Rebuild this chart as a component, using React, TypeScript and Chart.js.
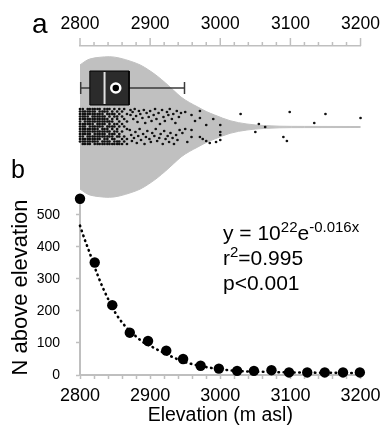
import React, { useEffect, useRef } from "react";
import { Chart, registerables } from "chart.js";

Chart.register(...registerables);

const FONT = "'Liberation Sans', Arial, Helvetica, sans-serif";

// ---- axis ticks ----
const xTickValues = [2800, 2820, 2840, 2860, 2880, 2900, 2920, 2940, 2960, 2980, 3000, 3020, 3040, 3060, 3080, 3100, 3120, 3140, 3160, 3180, 3200];
const xLabelValues = [2800, 2900, 3000, 3100, 3200];
const yTickValues = [0, 100, 200, 300, 400, 500];

// ---- panel b: N above elevation ----
const elevation = [2800, 2821, 2846, 2871, 2897, 2923, 2947, 2972, 2998, 3024, 3048, 3073, 3098, 3124, 3149, 3175, 3199];
const nAbove = [550, 351, 218, 132, 106, 76, 50, 29, 20, 13, 13, 15, 8, 8, 8, 8, 8];

// fitted curve
const fitElevation = [2800, 2807, 2814, 2819, 2826, 2833, 2842, 2851, 2863, 2875, 2889, 2907, 2926, 2949, 2972, 3000, 3028, 3060, 3100, 3150, 3200];
const fitN = [466, 421, 380, 348, 307, 270, 229, 192, 156, 130, 104, 83, 62, 41, 28, 18, 12, 10, 8, 7, 6];

// ---- panel a: violin outline (half width) ----
const violinElev = [2800, 2808, 2814, 2828, 2842, 2856, 2874, 2886, 2898, 2910, 2922, 2933, 2944, 2956, 2968, 2980, 2992, 3014, 3038, 3062, 3084, 3120, 3200];
const violinHalfWidth = [62, 66, 68, 69.7, 70.3, 69, 65.3, 62, 57, 51, 44, 37, 30, 24.5, 20, 15.5, 12, 6.3, 3, 1.5, 0.8, 0.6, 0.5];

// box plot statistics
const boxQ1 = 2814;
const boxMedian = 2835;
const boxQ3 = 2870;
const boxMean = 2851;
const whiskerLow = 2801;
const whiskerHigh = 2949;
const boxLevelTop = 56;
const boxLevelBottom = 22;
const boxLevelMid = 39;
const capLevelTop = 45;
const capLevelBottom = 33;

// jittered individual records: dense columns
const denseElev = [2800, 2804, 2807, 2811, 2814, 2818, 2821, 2825, 2828, 2832, 2835, 2839, 2842, 2846, 2849, 2853, 2856, 2860, 2863, 2867];
const denseJitter = [
  [18, 15.5, 13, 10.5, 8, 5.5, 3, 0.5, -2, -4.5, -7, -9.5, -12, -14.5],
  [18, 15.5, 13, 10.5, 8, 3, 0.5, -2, -4.5, -7, -9.5, -12, -14.5, -17],
  [15.5, 13, 10.5, 8, 5.5, 3, 0.5, -2, -4.5, -7, -12, -14.5, -17],
  [18, 15.5, 13, 10.5, 8, 5.5, 3, -2, -4.5, -7, -9.5, -12, -14.5, -17],
  [18, 15.5, 13, 8, 5.5, 3, 0.5, -2, -4.5, -7, -9.5, -12, -14.5, -17],
  [18, 15.5, 13, 10.5, 8, 5.5, 3, 0.5, -2, -4.5, -9.5, -12, -14.5],
  [18, 15.5, 13, 10.5, 8, 5.5, 0.5, -2, -4.5, -7, -9.5, -12, -14.5, -17],
  [18, 13, 10.5, 8, 5.5, 3, 0.5, -2, -4.5, -7, -9.5, -12, -14.5, -17],
  [18, 15.5, 13, 10.5, 8, 5.5, 3, 0.5, -4.5, -7, -9.5, -12, -17],
  [15.5, 13, 10.5, 8, 5.5, 3, 0.5, -2, -4.5, -7, -9.5, -14.5, -17],
  [18, 15.5, 10.5, 8, 5.5, 3, -2, -4.5, -7, -9.5, -12, -14.5, -17],
  [18, 15.5, 13, 8, 5.5, 0.5, -2, -4.5, -9.5, -12, -14.5, -17],
  [18, 13, 10.5, 5.5, 3, 0.5, -4.5, -7, -9.5, -14.5, -17],
  [15.5, 13, 8, 5.5, 0.5, -2, -7, -9.5, -12, -17],
  [18, 13, 10.5, 3, 0.5, -4.5, -7, -12, -14.5, -17],
  [15.5, 10.5, 8, 3, -2, -4.5, -9.5, -14.5, -17],
  [18, 13, 5.5, 0.5, -7, -9.5, -14.5, -17],
  [15.5, 10.5, 3, -4.5, -12, -17],
  [18, 8, 0.5, -9.5, -14.5],
  [13, 5.5, -2, -12, -17],
];

// jittered individual records: sparse part and outliers [elevation, jitter]
const sparsePoints = [
  [2872, 17], [2872, 12], [2875, 15], [2876, 8], [2878, 18], [2880, 11], [2882, 5], [2884, 16],
  [2886, 13], [2889, 9], [2891, 17], [2893, 4], [2895, 14], [2898, 10], [2900, 16], [2902, 6],
  [2905, 12], [2907, 18], [2909, 8], [2912, 14], [2914, 3], [2917, 17], [2919, 10], [2921, 6],
  [2924, 15], [2926, 12], [2928, 18], [2931, 8], [2933, 13], [2936, 4], [2938, 16], [2941, 10],
  [2871, -3], [2873, -8], [2874, -14], [2877, -11], [2879, -5], [2881, -16], [2883, -9], [2885, -2],
  [2887, -13], [2890, -7], [2892, -17], [2894, -10], [2896, -4], [2899, -12], [2901, -15], [2903, -6],
  [2906, -9], [2908, -2], [2910, -14], [2913, -11], [2915, -7], [2918, -17], [2920, -4], [2922, -12],
  [2925, -9], [2927, -15], [2929, -6], [2932, -11], [2934, -17], [2937, -8], [2939, -13], [2942, -3],
  [2944, 14], [2950, 15], [2959, 12], [2971, 16], [2971, 9], [2980, 2], [2990, 8], [3000, 2],
  [2950, -2], [2959, -3], [2959, -10], [2971, -10], [2975, -12], [2980, -14], [2985, -16], [2994, -15],
  [3000, -13], [3000, -8], [3000, -5], [2946, -6], [2953, -15], [2964, 6],
  [3029, 13], [3055, 3], [3064, 0], [3050, -5], [3099, 15], [3090, -10], [3095, -14], [3134, 4],
  [3150, 13], [3200, 9],
];

const GRAY_AXIS = "#bfbfbf";
const VIOLIN = "#c0c0c0";

function buildCloud() {
  const pts: { x: number; y: number }[] = [];
  denseElev.forEach((e, i) => denseJitter[i].forEach((j) => pts.push({ x: e, y: j })));
  sparsePoints.forEach(([e, j]) => pts.push({ x: e, y: j }));
  return pts;
}

type Part = { t: string; sup?: boolean };
function drawRich(ctx: CanvasRenderingContext2D, parts: Part[], x: number, y: number) {
  let cx = x;
  for (const p of parts) {
    ctx.font = p.sup ? `15px ${FONT}` : `21px ${FONT}`;
    ctx.fillText(p.t, cx, p.sup ? y - 8 : y);
    cx += ctx.measureText(p.t).width;
  }
}

const annotate = {
  id: "annotate",
  afterDraw(chart: any) {
    const ctx: CanvasRenderingContext2D = chart.ctx;
    const x2 = chart.scales.x2;
    ctx.save();
    // top axis ticks (major/minor)
    ctx.strokeStyle = GRAY_AXIS;
    ctx.lineWidth = 1.5;
    const base = x2.bottom;
    xTickValues.forEach((v) => {
      const px = x2.getPixelForValue(v);
      const len = xLabelValues.includes(v) ? 8 : 4;
      ctx.beginPath();
      ctx.moveTo(px, base);
      ctx.lineTo(px, base - len);
      ctx.stroke();
    });
    // panel letters
    ctx.fillStyle = "#000";
    ctx.textAlign = "left";
    ctx.textBaseline = "alphabetic";
    ctx.font = `28px ${FONT}`;
    ctx.fillText("a", 32, 33);
    ctx.font = `25px ${FONT}`;
    ctx.fillText("b", 11, 178);
    // equation block
    const ex = 223;
    drawRich(ctx, [{ t: "y = 10" }, { t: "22", sup: true }, { t: "e" }, { t: "-0.016x", sup: true }], ex, 240);
    drawRich(ctx, [{ t: "r" }, { t: "2", sup: true }, { t: "=0.995" }], ex, 265);
    drawRich(ctx, [{ t: "p<0.001" }], ex, 290);
    ctx.restore();
  },
};

export default function App() {
  const ref = useRef<HTMLCanvasElement>(null);

  useEffect(() => {
    if (!ref.current) return;
    const cloud = buildCloud();
    const lineBase = { pointRadius: 0, clip: false as any, fill: false };
    const chart = new Chart(ref.current, {
      type: "line",
      data: {
        datasets: [
          {
            ...lineBase,
            data: violinElev.map((e, i) => ({ x: e, y: violinHalfWidth[i] })),
            yAxisID: "y2",
            borderColor: VIOLIN,
            borderWidth: 1,
            backgroundColor: VIOLIN,
            fill: "+1",
            cubicInterpolationMode: "monotone",
            order: 10,
          },
          {
            ...lineBase,
            data: violinElev.map((e, i) => ({ x: e, y: -violinHalfWidth[i] })),
            yAxisID: "y2",
            borderColor: VIOLIN,
            borderWidth: 1,
            cubicInterpolationMode: "monotone",
            order: 10,
          },
          {
            ...lineBase,
            data: cloud,
            yAxisID: "y2",
            showLine: false,
            pointRadius: 1.35,
            pointBorderWidth: 0,
            pointBackgroundColor: "#111",
            order: 6,
          },
          {
            ...lineBase,
            data: [{ x: boxQ1, y: boxLevelTop }, { x: boxQ3, y: boxLevelTop }],
            yAxisID: "y2",
            borderWidth: 0,
            backgroundColor: "#2b2b2b",
            fill: "+1",
            order: 5,
          },
          {
            ...lineBase,
            data: [{ x: boxQ1, y: boxLevelBottom }, { x: boxQ3, y: boxLevelBottom }],
            yAxisID: "y2",
            borderWidth: 0,
            order: 5,
          },
          {
            ...lineBase,
            data: [
              { x: boxQ1, y: boxLevelBottom },
              { x: boxQ1, y: boxLevelTop },
              { x: boxQ3, y: boxLevelTop },
              { x: boxQ3, y: boxLevelBottom },
              { x: boxQ1, y: boxLevelBottom },
            ],
            yAxisID: "y2",
            borderColor: "#000",
            borderWidth: 1,
            order: 4,
          },
          {
            ...lineBase,
            data: [{ x: boxMedian, y: boxLevelBottom + 1 }, { x: boxMedian, y: boxLevelTop - 1 }],
            yAxisID: "y2",
            borderColor: "#e0e0e0",
            borderWidth: 2,
            order: 3,
          },
          {
            ...lineBase,
            data: [{ x: whiskerLow, y: boxLevelMid }, { x: boxQ1, y: boxLevelMid }],
            yAxisID: "y2",
            borderColor: "#3a3a3a",
            borderWidth: 1.5,
            order: 4,
          },
          {
            ...lineBase,
            data: [{ x: boxQ3, y: boxLevelMid }, { x: whiskerHigh, y: boxLevelMid }],
            yAxisID: "y2",
            borderColor: "#3a3a3a",
            borderWidth: 1.5,
            order: 4,
          },
          {
            ...lineBase,
            data: [{ x: whiskerLow, y: capLevelBottom }, { x: whiskerLow, y: capLevelTop }],
            yAxisID: "y2",
            borderColor: "#3a3a3a",
            borderWidth: 1.5,
            order: 4,
          },
          {
            ...lineBase,
            data: [{ x: whiskerHigh, y: capLevelBottom }, { x: whiskerHigh, y: capLevelTop }],
            yAxisID: "y2",
            borderColor: "#3a3a3a",
            borderWidth: 1.5,
            order: 4,
          },
          {
            ...lineBase,
            data: [{ x: boxMean, y: boxLevelMid }],
            yAxisID: "y2",
            showLine: false,
            pointRadius: 4.5,
            pointBackgroundColor: "#000",
            pointBorderColor: "#fff",
            pointBorderWidth: 2.5,
            order: 1,
          },
          {
            ...lineBase,
            data: fitElevation.map((e, i) => ({ x: e, y: fitN[i] })),
            yAxisID: "y",
            borderColor: "#000",
            borderWidth: 2.6,
            borderDash: [0.5, 4.7],
            borderCapStyle: "round",
            cubicInterpolationMode: "monotone",
            order: 2,
          },
          {
            ...lineBase,
            data: elevation.map((e, i) => ({ x: e, y: nAbove[i] })),
            yAxisID: "y",
            showLine: false,
            pointRadius: 5.2,
            pointBorderWidth: 0,
            pointBackgroundColor: "#000",
            order: 1,
          },
        ] as any,
      },
      options: {
        animation: false,
        responsive: false,
        maintainAspectRatio: false,
        events: [],
        layout: { padding: { left: 0, right: 25, top: 0, bottom: 0 } },
        plugins: {
          legend: { display: false },
          tooltip: { enabled: false },
        },
        scales: {
          x: {
            type: "linear",
            position: "bottom",
            min: 2800,
            max: 3200,
            afterFit: (s: any) => {
              s.height = 52;
            },
            afterBuildTicks: (s: any) => {
              s.ticks = xTickValues.map((v) => ({ value: v }));
            },
            ticks: {
              autoSkip: false,
              maxRotation: 0,
              padding: 6,
              color: "#000",
              font: { family: FONT, size: 18 },
              callback: (v: any) => (xLabelValues.includes(Number(v)) ? String(v) : ""),
            },
            grid: { drawOnChartArea: false, drawTicks: true, tickLength: 4, tickColor: GRAY_AXIS, tickWidth: 1.5 },
            border: { color: GRAY_AXIS, width: 2 },
            title: {
              display: true,
              text: "Elevation (m asl)",
              color: "#000",
              font: { family: FONT, size: 19.5 },
              padding: { top: 0, bottom: 0 },
            },
          },
          x2: {
            type: "linear",
            position: "top",
            min: 2800,
            max: 3200,
            afterFit: (s: any) => {
              s.height = 46;
            },
            afterBuildTicks: (s: any) => {
              s.ticks = xTickValues.map((v) => ({ value: v }));
            },
            ticks: {
              autoSkip: false,
              maxRotation: 0,
              padding: 11,
              color: "#000",
              font: { family: FONT, size: 17.5 },
              callback: (v: any) => (xLabelValues.includes(Number(v)) ? String(v) : ""),
            },
            grid: { drawOnChartArea: false, drawTicks: false },
            border: { color: GRAY_AXIS, width: 1.5 },
          },
          y: {
            type: "linear",
            position: "left",
            stack: "v",
            stackWeight: 175,
            weight: 0,
            min: 0,
            max: 546,
            afterFit: (s: any) => {
              s.width = 80;
            },
            afterBuildTicks: (s: any) => {
              s.ticks = yTickValues.map((v) => ({ value: v }));
            },
            ticks: {
              padding: 16,
              color: "#000",
              font: { family: FONT, size: 14 },
            },
            grid: { drawOnChartArea: false, drawTicks: true, tickLength: 4, tickColor: GRAY_AXIS, tickWidth: 1.5 },
            border: { color: GRAY_AXIS, width: 2 },
            title: {
              display: true,
              text: "N above elevation",
              color: "#000",
              font: { family: FONT, size: 22 },
              padding: { top: 8, bottom: 0 },
            },
          },
          y2: {
            type: "linear",
            position: "left",
            stack: "v",
            stackWeight: 154,
            weight: 1,
            min: -73,
            max: 81,
            display: false,
            afterFit: (s: any) => {
              s.width = 80;
            },
          },
        } as any,
      },
      plugins: [annotate],
    });
    return () => chart.destroy();
  }, []);

  return (
    <div style={{ position: "absolute", left: 0, top: 0, width: 391, height: 427, background: "#fff" }}>
      <canvas ref={ref} width={391} height={427} style={{ display: "block", width: 391, height: 427 }} />
    </div>
  );
}
